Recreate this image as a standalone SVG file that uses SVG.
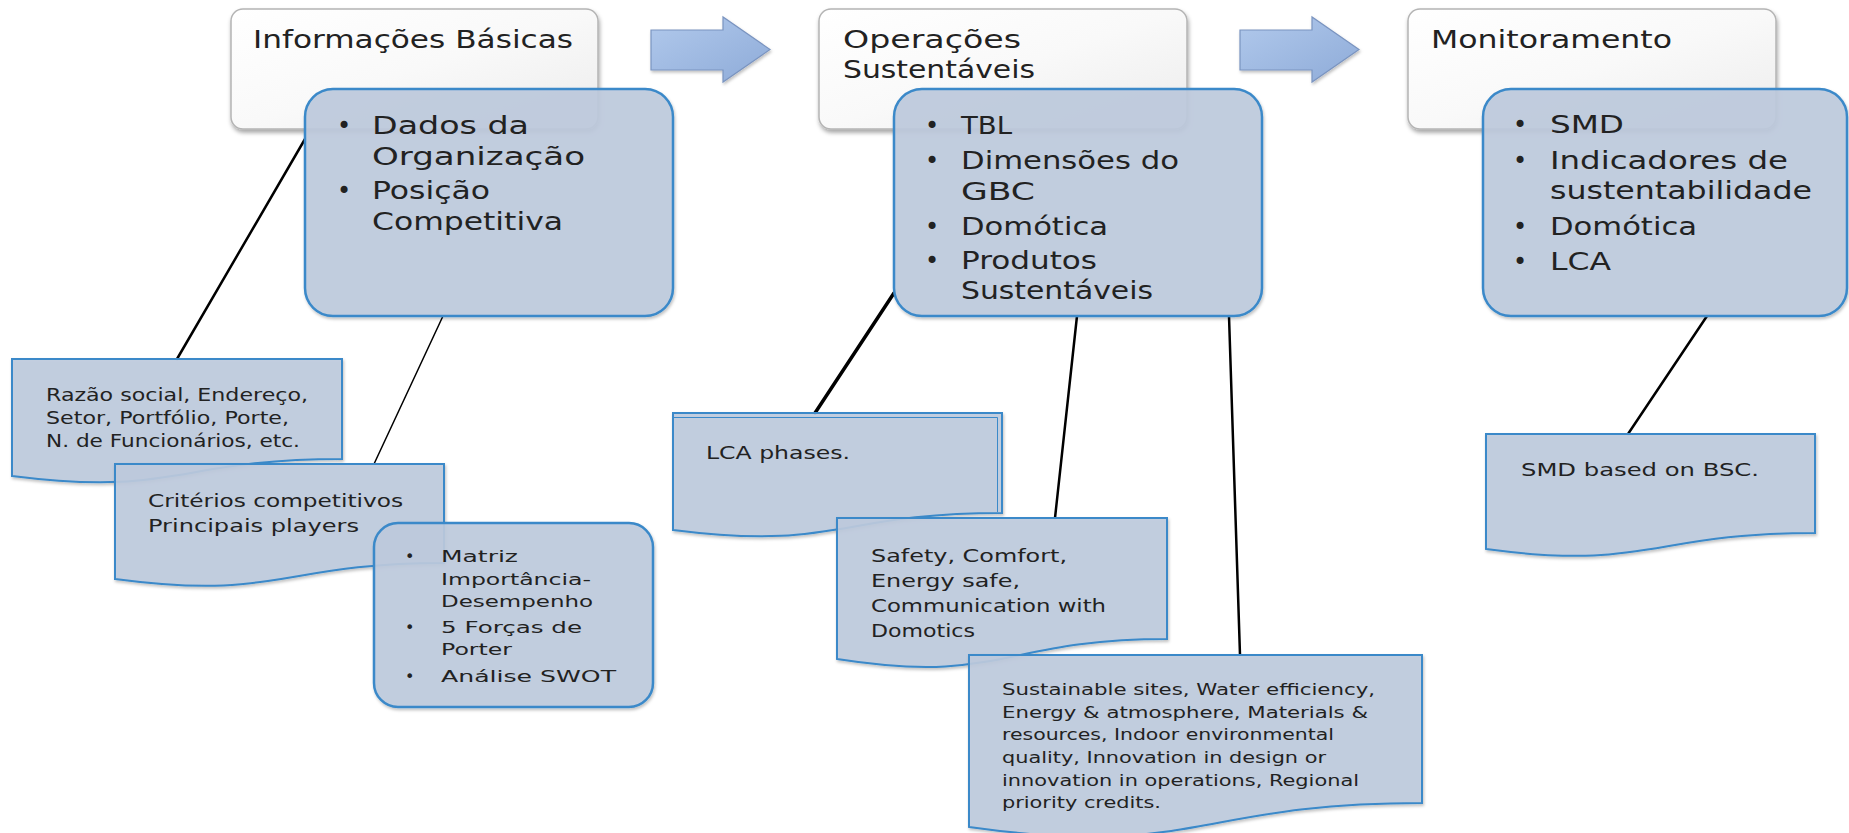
<svg xmlns="http://www.w3.org/2000/svg" width="1849" height="833" viewBox="0 0 1849 833">
<defs>
<linearGradient id="gWhite" x1="0" y1="0" x2="1" y2="1">
<stop offset="0" stop-color="#ffffff"/><stop offset="0.5" stop-color="#f9f9f9"/><stop offset="1" stop-color="#ececec"/>
</linearGradient>
<linearGradient id="gArrow" x1="0" y1="0" x2="1" y2="1">
<stop offset="0" stop-color="#b1c9ec"/><stop offset="1" stop-color="#8eabd8"/>
</linearGradient>
<filter id="sh" x="-10%" y="-10%" width="130%" height="140%">
<feDropShadow dx="1" dy="3" stdDeviation="2" flood-color="#000" flood-opacity="0.35"/>
</filter>
<filter id="sh2" x="-10%" y="-10%" width="130%" height="140%">
<feDropShadow dx="1" dy="2" stdDeviation="1.5" flood-color="#000" flood-opacity="0.25"/>
</filter>
</defs>
<style>
.wb{fill:url(#gWhite);stroke:#b4b4b4;stroke-width:1.5;filter:url(#sh)}
.bb{fill:#bfcbde;fill-opacity:0.9;stroke:#3b89c9;stroke-width:2.5;filter:url(#sh2)}
.doc{fill:#bfcbde;fill-opacity:0.9;stroke:#3b89c9;stroke-width:2;filter:url(#sh2)}
.ar{fill:url(#gArrow);stroke:#7a94c0;stroke-width:1.2;filter:url(#sh2)}
.cn{stroke:#000;fill:none;stroke-linecap:round}
text{font-family:"DejaVu Sans","Liberation Sans",sans-serif;fill:#222}
.t{font-size:24px}
.s{font-size:17px}
.m{font-size:16px}
</style>
<rect width="1849" height="833" fill="#ffffff"/>

<g id="connectors">
<line class="cn" x1="305" y1="139" x2="177" y2="359" stroke-width="2.5"/>
<line class="cn" x1="443" y1="316" x2="374" y2="464" stroke-width="1.5"/>
<line class="cn" x1="894" y1="293" x2="815" y2="413" stroke-width="3.5"/>
<line class="cn" x1="1077" y1="316" x2="1055" y2="518" stroke-width="2.5"/>
<line class="cn" x1="1229" y1="316" x2="1240" y2="655" stroke-width="2.5"/>
<line class="cn" x1="1707" y1="316" x2="1628" y2="434" stroke-width="2.5"/>
</g>

<g id="arrow1"><path class="ar" d="M651,30 H723 V17 L770,49.5 L723,82 V70 H651 Z"/></g>
<g id="arrow2"><path class="ar" d="M1240,30 H1312 V17 L1359,49.5 L1312,82 V70 H1240 Z"/></g>

<g id="informacoes-basicas">
<rect class="wb" x="231" y="9" width="367" height="120" rx="12"/>
<text class="t" x="253" y="48" textLength="320" lengthAdjust="spacingAndGlyphs">Informações Básicas</text>
</g>
<g id="operacoes-sustentaveis">
<rect class="wb" x="819" y="9" width="368" height="120" rx="12"/>
<text class="t" x="843" y="48" textLength="178" lengthAdjust="spacingAndGlyphs">Operações</text>
<text class="t" x="843" y="78" textLength="192" lengthAdjust="spacingAndGlyphs">Sustentáveis</text>
</g>
<g id="monitoramento">
<rect class="wb" x="1408" y="9" width="368" height="120" rx="12"/>
<text class="t" x="1431" y="48" textLength="241" lengthAdjust="spacingAndGlyphs">Monitoramento</text>
</g>

<g id="dados-box">
<rect class="bb" x="305" y="89" width="368" height="227" rx="28"/>
<text class="t" x="337" y="134">•</text>
<text class="t" x="372" y="134" textLength="157" lengthAdjust="spacingAndGlyphs">Dados da</text>
<text class="t" x="372" y="165" textLength="213" lengthAdjust="spacingAndGlyphs">Organização</text>
<text class="t" x="337" y="199">•</text>
<text class="t" x="372" y="199" textLength="118" lengthAdjust="spacingAndGlyphs">Posição</text>
<text class="t" x="372" y="230" textLength="191" lengthAdjust="spacingAndGlyphs">Competitiva</text>
</g>

<g id="tbl-box">
<rect class="bb" x="894" y="89" width="368" height="227" rx="28"/>
<text class="t" x="925" y="134">•</text>
<text class="t" x="961" y="134" textLength="51" lengthAdjust="spacingAndGlyphs">TBL</text>
<text class="t" x="925" y="169">•</text>
<text class="t" x="961" y="169" textLength="218" lengthAdjust="spacingAndGlyphs">Dimensões do</text>
<text class="t" x="961" y="200" textLength="74" lengthAdjust="spacingAndGlyphs">GBC</text>
<text class="t" x="925" y="235">•</text>
<text class="t" x="961" y="235" textLength="147" lengthAdjust="spacingAndGlyphs">Domótica</text>
<text class="t" x="925" y="269">•</text>
<text class="t" x="961" y="269" textLength="136" lengthAdjust="spacingAndGlyphs">Produtos</text>
<text class="t" x="961" y="299" textLength="192" lengthAdjust="spacingAndGlyphs">Sustentáveis</text>
</g>

<g id="smd-box">
<rect class="bb" x="1483" y="89" width="364" height="227" rx="28"/>
<text class="t" x="1513" y="133">•</text>
<text class="t" x="1550" y="133" textLength="74" lengthAdjust="spacingAndGlyphs">SMD</text>
<text class="t" x="1513" y="169">•</text>
<text class="t" x="1550" y="169" textLength="238" lengthAdjust="spacingAndGlyphs">Indicadores de</text>
<text class="t" x="1550" y="199" textLength="262" lengthAdjust="spacingAndGlyphs">sustentabilidade</text>
<text class="t" x="1513" y="235">•</text>
<text class="t" x="1550" y="235" textLength="147" lengthAdjust="spacingAndGlyphs">Domótica</text>
<text class="t" x="1513" y="270">•</text>
<text class="t" x="1550" y="270" textLength="61" lengthAdjust="spacingAndGlyphs">LCA</text>
</g>

<g id="doc-razao">
<path class="doc" d="M12,359 H342 V459 C177,459 177,497 12,476 Z"/>
<text class="s" x="46" y="401" textLength="262" lengthAdjust="spacingAndGlyphs">Razão social, Endereço,</text>
<text class="s" x="46" y="424" textLength="243" lengthAdjust="spacingAndGlyphs">Setor, Portfólio, Porte,</text>
<text class="s" x="46" y="447" textLength="254" lengthAdjust="spacingAndGlyphs">N. de Funcionários, etc.</text>
</g>

<g id="doc-criterios">
<path class="doc" d="M115,464 H444 V563 C280,563 280,601 115,579 Z"/>
<text class="s" x="148" y="507" textLength="255" lengthAdjust="spacingAndGlyphs">Critérios competitivos</text>
<text class="s" x="148" y="532" textLength="211" lengthAdjust="spacingAndGlyphs">Principais players</text>
</g>

<g id="ferramentas-box">
<rect class="bb" x="374" y="523" width="279" height="184" rx="24" stroke-width="2"/>
<text class="m" x="405" y="562">•</text>
<text class="m" x="441" y="562" textLength="77" lengthAdjust="spacingAndGlyphs">Matriz</text>
<text class="m" x="441" y="585" textLength="150" lengthAdjust="spacingAndGlyphs">Importância-</text>
<text class="m" x="441" y="607" textLength="152" lengthAdjust="spacingAndGlyphs">Desempenho</text>
<text class="m" x="405" y="633">•</text>
<text class="m" x="441" y="633" textLength="141" lengthAdjust="spacingAndGlyphs">5 Forças de</text>
<text class="m" x="441" y="655" textLength="71" lengthAdjust="spacingAndGlyphs">Porter</text>
<text class="m" x="405" y="682">•</text>
<text class="m" x="441" y="682" textLength="175" lengthAdjust="spacingAndGlyphs">Análise SWOT</text>
</g>

<g id="doc-lca">
<path class="doc" d="M673,413 H1002 V513 C838,513 838,551 673,530 Z"/>
<path d="M674,417.5 H997.5 V512" fill="none" stroke="#3b89c9" stroke-width="1"/>
<text class="s" x="706" y="459" textLength="144" lengthAdjust="spacingAndGlyphs">LCA phases.</text>
</g>

<g id="doc-safety">
<path class="doc" d="M837,518 H1167 V639 C1002,639 1002,685 837,659 Z"/>
<text class="s" x="871" y="562" textLength="196" lengthAdjust="spacingAndGlyphs">Safety, Comfort,</text>
<text class="s" x="871" y="587" textLength="149" lengthAdjust="spacingAndGlyphs">Energy safe,</text>
<text class="s" x="871" y="612" textLength="235" lengthAdjust="spacingAndGlyphs">Communication with</text>
<text class="s" x="871" y="637" textLength="104" lengthAdjust="spacingAndGlyphs">Domotics</text>
</g>

<g id="doc-sustainable">
<path class="doc" d="M969,655 H1422 V803 C1196,803 1196,859 969,827 Z"/>
<text class="m" x="1002" y="695" textLength="373" lengthAdjust="spacingAndGlyphs">Sustainable sites, Water efficiency,</text>
<text class="m" x="1002" y="718" textLength="366" lengthAdjust="spacingAndGlyphs">Energy &amp; atmosphere, Materials &amp;</text>
<text class="m" x="1002" y="740" textLength="332" lengthAdjust="spacingAndGlyphs">resources, Indoor environmental</text>
<text class="m" x="1002" y="763" textLength="324" lengthAdjust="spacingAndGlyphs">quality, Innovation in design or</text>
<text class="m" x="1002" y="786" textLength="357" lengthAdjust="spacingAndGlyphs">innovation in operations, Regional</text>
<text class="m" x="1002" y="808" textLength="159" lengthAdjust="spacingAndGlyphs">priority credits.</text>
</g>

<g id="doc-smd">
<path class="doc" d="M1486,434 H1815 V533 C1650,533 1650,571 1486,549 Z"/>
<text class="s" x="1521" y="476" textLength="238" lengthAdjust="spacingAndGlyphs">SMD based on BSC.</text>
</g>
</svg>
